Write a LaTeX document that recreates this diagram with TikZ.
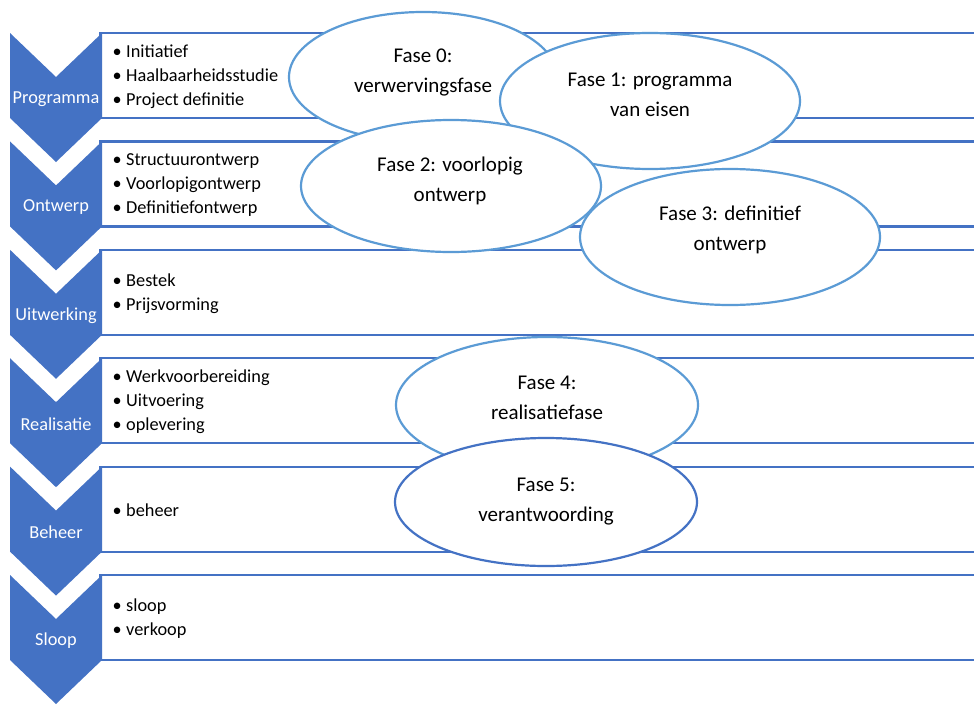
\documentclass[tikz,border=0pt]{standalone}
\usepackage{fontspec}
\setmainfont{Carlito}
\usetikzlibrary{shapes.geometric}
\definecolor{barblue}{HTML}{4472C4}
\definecolor{ovalblue}{HTML}{5B9BD5}
\newcommand{\itm}[1]{\makebox[13.5pt][l]{•}#1}
\begin{document}
\begin{tikzpicture}[x=1pt,y=-1pt,
  band/.style={draw=barblue, line width=2.2pt, fill=white},
  chev/.style={fill=barblue, draw=none},
  chevlabel/.style={text=white, font=\fontsize{18.3}{22}\selectfont, inner sep=0},
  items/.style={anchor=west, align=left, inner sep=0, font=\fontsize{18.3}{24}\selectfont},
  phase/.style={ellipse, draw=ovalblue, line width=2.2pt, fill=white, inner sep=0},
  phasetext/.style={align=center, inner sep=0, font=\fontsize{21}{30}\selectfont},
]
\useasboundingbox (0,0) rectangle (974,704);
\clip (0,0) rectangle (974,704);

% text bands, running off the right edge
\foreach \t in {33,141.4,249.8,358.2,466.6,575}
  \draw[band] (100.5,\t) rectangle (995,\t+85);

% chevrons
\foreach \t in {33,141.4,249.8,358.2,466.6,575}
  \fill[chev] (10,\t) -- (56,\t+44) -- (102,\t) -- (102,\t+85)
    -- (56,\t+129) -- (10,\t+85) -- cycle;

% chevron labels
\node[chevlabel] (c1) at (56,99)    {Programma};
\node[chevlabel] (c2) at (56,207.4) {Ontwerp};
\node[chevlabel] (c3) at (56,315.8) {Uitwerking};
\node[chevlabel] (c4) at (56,424.2) {Realisatie};
\node[chevlabel] (c5) at (56,532.6) {Beheer};
\node[chevlabel] (c6) at (56,641)   {Sloop};

% bullet lists
\node[items] (l1) at (112.5,77)    {\itm{Initiatief}\\\itm{Haalbaarheidsstudie}\\\itm{Project definitie}};
\node[items] (l2) at (112.5,185.4) {\itm{Structuurontwerp}\\\itm{Voorlopigontwerp}\\\itm{Definitiefontwerp}};
\node[items] (l3) at (112.5,293.8) {\itm{Bestek}\\\itm{Prijsvorming}};
\node[items] (l4) at (112.5,402.2) {\itm{Werkvoorbereiding}\\\itm{Uitvoering}\\\itm{oplevering}};
\node[items] (l5) at (112.5,510.6) {\itm{beheer}};
\node[items] (l6) at (112.5,619)   {\itm{sloop}\\\itm{verkoop}};

% phase ovals
\node[phase, minimum width=268pt, minimum height=130pt] (e0) at (423,77) {};
\node[phasetext] (t0) at (423,72.5) {Fase 0:\\verwervingsfase};
\node[phase, minimum width=300pt, minimum height=136pt] (e1) at (650,101) {};
\node[phasetext] (t1) at (650,95) {Fase 1: programma\\van eisen};
\node[phase, minimum width=300pt, minimum height=132pt] (e2) at (451,186) {};
\node[phasetext] (t2) at (450,181) {Fase 2: voorlopig\\ontwerp};
\node[phase, minimum width=300pt, minimum height=136pt] (e3) at (730,237) {};
\node[phasetext] (t3) at (730,229.5) {Fase 3: definitief\\ontwerp};
\node[phase, minimum width=302pt, minimum height=136pt] (e4) at (547,405) {};
\node[phasetext] (t4) at (547,397.5) {Fase 4:\\realisatiefase};
\node[phase, draw=barblue, minimum width=302pt, minimum height=128pt] (e5) at (546,502) {};
\node[phasetext] (t5) at (546,501.5) {Fase 5:\\verantwoording};
\end{tikzpicture}
\end{document}
